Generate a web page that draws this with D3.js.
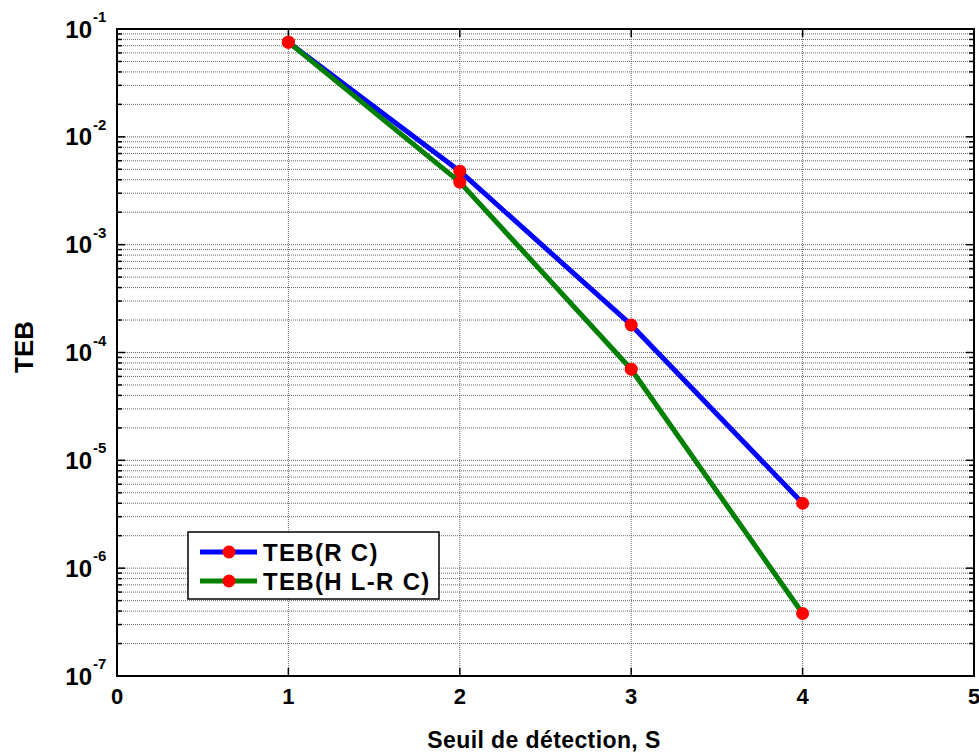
<!DOCTYPE html>
<html><head><meta charset="utf-8">
<script src="https://cdn.jsdelivr.net/npm/d3@7"></script>
<style>body{margin:0;background:#fff}</style>
</head><body>
<svg id="c" width="979" height="753"></svg>
<script>
const xValues = [1, 2, 3, 4];
const tebRC = [0.0755, 0.0048, 1.8e-4, 4.0e-6];
const tebHLRC = [0.0755, 0.0038, 7.0e-5, 3.8e-7];
const xTicks = [0, 1, 2, 3, 4, 5];
const yExponents = [-1, -2, -3, -4, -5, -6, -7];
const seriesNames = ["TEB(R C)", "TEB(H L-R C)"];
const seriesColors = ["#0000ff", "#008000"];

const W = 979, H = 753;
const L = 117, R = 974, T = 29, B = 676;
const svg = d3.select("#c");
const x = d3.scaleLinear().domain([0, 5]).range([L, R]);
const y = d3.scaleLog().domain([1e-7, 1e-1]).range([B, T]);
const font = "'Liberation Sans', Arial, sans-serif";

// minor + major y values
const yAll = [];
for (let e = -7; e < -1; e++) for (let m = 1; m <= 9; m++) yAll.push(m * Math.pow(10, e));
yAll.push(1e-1);

const grid = svg.append("g");
yAll.forEach(v => {
  grid.append("line").attr("x1", L).attr("x2", R).attr("y1", y(v)).attr("y2", y(v))
    .attr("stroke", "#666").attr("stroke-width", 1).attr("stroke-dasharray", "1,1");
});
xTicks.slice(1, -1).forEach(v => {
  grid.append("line").attr("x1", x(v)).attr("x2", x(v)).attr("y1", T).attr("y2", B)
    .attr("stroke", "#666").attr("stroke-width", 1).attr("stroke-dasharray", "1,1");
});

// ticks
const tk = svg.append("g").attr("stroke", "#000").attr("stroke-width", 1.5);
yAll.forEach(v => {
  const major = Math.abs(Math.log10(v) - Math.round(Math.log10(v))) < 1e-9;
  const len = major ? 8 : 5;
  tk.append("line").attr("x1", L).attr("x2", L + len).attr("y1", y(v)).attr("y2", y(v));
  tk.append("line").attr("x1", R).attr("x2", R - len).attr("y1", y(v)).attr("y2", y(v));
});
xTicks.slice(1, -1).forEach(v => {
  tk.append("line").attr("x1", x(v)).attr("x2", x(v)).attr("y1", B).attr("y2", B - 8);
  tk.append("line").attr("x1", x(v)).attr("x2", x(v)).attr("y1", T).attr("y2", T + 8);
});

// frame
svg.append("rect").attr("x", L).attr("y", T).attr("width", R - L).attr("height", B - T)
  .attr("fill", "none").attr("stroke", "#000").attr("stroke-width", 2);

// series
const series = [tebRC, tebHLRC];
series.forEach((vals, i) => {
  const pts = xValues.map((xv, j) => [x(xv), y(vals[j])]);
  svg.append("path").attr("d", d3.line()(pts)).attr("fill", "none")
    .attr("stroke", seriesColors[i]).attr("stroke-width", 5).attr("stroke-linejoin", "round");
  pts.forEach(p => svg.append("circle").attr("cx", p[0]).attr("cy", p[1]).attr("r", 6.5).attr("fill", "#ff0000"));
});

// y tick labels
yExponents.forEach(e => {
  const yy = y(Math.pow(10, e));
  svg.append("text").attr("x", 92).attr("y", yy + 8.5).attr("text-anchor", "end")
    .attr("font-family", font).attr("font-weight", "bold").attr("font-size", 24).text("10");
  svg.append("text").attr("x", 93).attr("y", yy - 7).attr("text-anchor", "start")
    .attr("font-family", font).attr("font-weight", "bold").attr("font-size", 15).text(String(e));
});
// x tick labels
xTicks.forEach(v => {
  svg.append("text").attr("x", x(v)).attr("y", 704).attr("text-anchor", "middle")
    .attr("font-family", font).attr("font-weight", "bold").attr("font-size", 22).text(v);
});

// axis labels
svg.append("text").attr("x", 544).attr("y", 748).attr("text-anchor", "middle")
  .attr("font-family", font).attr("font-weight", "bold").attr("font-size", 23)
  .attr("letter-spacing", 0.4).text("Seuil de détection, S");
svg.append("text").attr("transform", "translate(33,347) rotate(-90)").attr("text-anchor", "middle")
  .attr("font-family", font).attr("font-weight", "bold").attr("font-size", 26).text("TEB");

// legend
const lg = svg.append("g");
lg.append("rect").attr("x", 188).attr("y", 532).attr("width", 251).attr("height", 67)
  .attr("fill", "#fff").attr("stroke", "#000").attr("stroke-width", 1.5);
seriesNames.forEach((n, i) => {
  const yy = 552 + i * 29;
  lg.append("line").attr("x1", 200).attr("x2", 257).attr("y1", yy).attr("y2", yy)
    .attr("stroke", seriesColors[i]).attr("stroke-width", 5);
  lg.append("circle").attr("cx", 229).attr("cy", yy).attr("r", 6.5).attr("fill", "#ff0000");
  lg.append("text").attr("x", 263).attr("y", yy + 9).attr("font-family", font)
    .attr("font-weight", "bold").attr("font-size", 24).attr("letter-spacing", 1.3).text(n);
});
</script>
</body></html>
